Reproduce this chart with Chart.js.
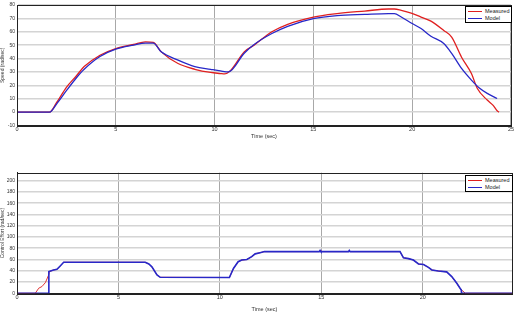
<!DOCTYPE html>
<html>
<head>
<meta charset="utf-8">
<script src="https://cdn.jsdelivr.net/npm/chart.js@4.4.0/dist/chart.umd.min.js"></script>
<style>
    body { margin: 0; background: #fff; width: 515px; height: 313px; overflow: hidden; position: relative; font-family: "Liberation Sans", Arial, sans-serif; }
    canvas { position: absolute; left: 0; }
    #speedChart { top: 0; }
    #effortChart { top: 160px; }
    .legend { position: absolute; background: #fff; border: 1px solid #000; font-size: 5.5px; color: #222; padding: 1px 2px; box-sizing: border-box; }
    .legend div { height: 6.5px; line-height: 6.5px; white-space: nowrap; }
    .legend span.ln { display: inline-block; width: 14px; height: 1px; vertical-align: middle; margin-right: 3px; }
</style>
</head>
<body>
<canvas id="speedChart" width="515" height="140"></canvas>
<canvas id="effortChart" width="515" height="153"></canvas>

<div class="legend" style="left:465px; top:6px; width:47px; height:17px;">
    <div><span class="ln" style="background:#e02020"></span>Measured</div>
    <div><span class="ln" style="background:#2828c8"></span>Model</div>
</div>
<div class="legend" style="left:465px; top:175px; width:48px; height:17px;">
    <div><span class="ln" style="background:#e02020"></span>Measured</div>
    <div><span class="ln" style="background:#2828c8"></span>Model</div>
</div>

<script>
// velocidad (grafico de arriba)
const speedTimeMeasured = [0, 1.65, 2.0, 2.5, 3.0, 3.4, 4.2, 5.0, 5.9, 6.5, 6.9, 7.3, 8.15, 9.0, 9.8, 10.3, 10.5, 10.8, 11.5, 12.0, 12.9, 13.7, 15.0, 16.2, 17.6, 18.8, 19.1, 19.45, 19.95, 20.45, 20.95, 21.6, 22.0, 22.5, 23.0, 23.3, 23.8, 24.1, 24.3, 24.4];
const speedMeasured = [0, 0, 7, 18.5, 27, 34, 42.5, 47.5, 50.5, 52.5, 52, 45, 36.3, 32, 29.6, 28.8, 28.5, 31, 45, 50, 60, 65.6, 71, 73.6, 75.5, 77, 77, 76, 74, 71, 68, 61, 56, 41, 28.8, 17.6, 9, 5, 1, 0];
const speedTimeModel = [0, 1.65, 2.0, 2.5, 3.0, 3.4, 4.2, 5.0, 5.9, 6.5, 6.9, 7.3, 8.15, 9.0, 9.8, 10.3, 10.7, 11.5, 12.0, 12.9, 13.7, 15.0, 16.2, 17.6, 18.8, 19.1, 19.45, 19.95, 20.45, 20.95, 21.6, 22.0, 22.5, 23.0, 23.4, 23.8, 24.3];
const speedModel = [0, 0, 6, 16, 25.5, 32, 41.5, 47, 50, 51.5, 51.5, 45, 38.8, 34, 32, 30.8, 30, 44, 50.5, 58.7, 64.1, 69.8, 72.1, 73, 73.6, 73.6, 71, 66.6, 62.4, 56.7, 51.2, 43.8, 32.6, 23.9, 18, 14, 10.2];

// esfuerzo de control (grafico de abajo)
const effortTimeMeasured = [0, 0.9, 1.07, 1.23, 1.4, 1.56, 1.6, 1.8, 1.97, 2.13, 2.3, 6.32, 6.5, 6.65, 6.9, 7.06, 10.47, 10.67, 10.9, 11.08, 11.33, 11.57, 11.74, 11.98, 12.2, 14.9, 14.94, 14.98, 16.34, 16.38, 16.42, 18.88, 19.05, 19.3, 19.54, 19.79, 20.04, 20.28, 20.45, 20.77, 21.18, 21.43, 21.68, 21.84, 21.95, 22.1, 24.4];
const effortMeasured = [0, 0, 9, 12, 19, 32.5, 38.5, 41.4, 42.6, 48.5, 55, 55, 52, 47, 32.5, 28.4, 28, 44, 56, 59, 60, 65, 70, 72, 74, 74, 76, 74, 74, 76, 74, 74, 63, 61.5, 59, 52, 51, 46, 41.4, 39.6, 38, 29.6, 17.8, 8.9, 5, 0, 0];
const effortTimeModel = [0, 1.56, 1.57, 1.8, 1.97, 2.13, 2.3, 6.32, 6.5, 6.65, 6.9, 7.06, 10.47, 10.67, 10.9, 11.08, 11.33, 11.57, 11.74, 11.98, 12.2, 14.9, 14.94, 14.98, 16.34, 16.38, 16.42, 18.88, 19.05, 19.3, 19.54, 19.79, 20.04, 20.28, 20.45, 20.77, 21.18, 21.43, 21.68, 21.84, 21.9, 21.91, 24.4];
const effortModel = [0, 0, 38.5, 41.4, 42.6, 48.5, 55, 55, 52, 47, 32.5, 28.4, 28, 44, 56, 59, 60, 65, 70, 72, 74, 74, 76, 74, 74, 76, 74, 74, 63, 61.5, 59, 52, 51, 46, 41.4, 39.6, 38, 29.6, 17.8, 8.9, 6, 0, 0];

const RED = '#e02020';
const BLUE = '#2828c8';

function toPoints(xs, ys) {
    return xs.map((x, i) => ({ x: x, y: ys[i] }));
}

// caja negra alrededor del area (estilo matlab)
const boxPlugin = {
    id: 'box',
    afterDraw(chart) {
        const a = chart.chartArea;
        const c = chart.ctx;
        c.save();
        c.strokeStyle = '#222';
        c.lineWidth = 1;
        c.strokeRect(Math.round(a.left) + 0.5, Math.round(a.top) + 0.5, Math.round(a.right - a.left), Math.round(a.bottom - a.top));
        c.restore();
    }
};

function makeChart(canvasId, datasets, xMax, yMin, yMax, yStep, yTitle, padTop, xAxisHeight) {
    const tickFont = { family: 'Liberation Sans', size: 5.5 };
    return new Chart(document.getElementById(canvasId), {
        type: 'line',
        data: { datasets: datasets },
        options: {
            responsive: false,
            animation: false,
            devicePixelRatio: 1,
            layout: { padding: { top: padTop, right: 3, left: 0, bottom: 0 } },
            plugins: {
                legend: { display: false },
                tooltip: { enabled: false }
            },
            elements: { point: { radius: 0 }, line: { borderWidth: 1.3 } },
            scales: {
                x: {
                    type: 'linear',
                    min: 0,
                    max: xMax,
                    afterFit: (s) => { s.height = xAxisHeight; },
                    afterBuildTicks: (s) => { s.ticks = s.ticks.filter(t => t.value % 5 === 0); },
                    ticks: { stepSize: 5, font: tickFont, color: '#333', padding: 1, maxRotation: 0 },
                    grid: { color: '#a8a8a8', lineWidth: 1, drawTicks: false },
                    border: { color: '#222' },
                    title: { display: true, text: 'Time (sec)', font: tickFont, color: '#333', padding: 0 }
                },
                y: {
                    min: yMin,
                    max: yMax,
                    afterFit: (s) => { s.width = 17; },
                    afterBuildTicks: (s) => { s.ticks = s.ticks.filter(t => t.value % yStep === 0); },
                    ticks: { stepSize: yStep, font: { family: 'Liberation Sans', size: 5 }, color: '#333', padding: 2 },
                    grid: { color: '#d4d4d4', lineWidth: 1.5, drawTicks: false },
                    border: { color: '#222' },
                    title: { display: true, text: yTitle, font: { family: 'Liberation Sans', size: 5 }, color: '#333', padding: 0 }
                }
            }
        },
        plugins: [boxPlugin]
    });
}

// el modelo va primero para quedar dibujado encima
makeChart('speedChart', [
    { label: 'Model', data: toPoints(speedTimeModel, speedModel), borderColor: BLUE, cubicInterpolationMode: 'monotone' },
    { label: 'Measured', data: toPoints(speedTimeMeasured, speedMeasured), borderColor: RED, cubicInterpolationMode: 'monotone' }
], 25, -10, 80, 10, 'Speed (rad/sec)', 4.5, 14.5);

makeChart('effortChart', [
    { label: 'Model', data: toPoints(effortTimeModel, effortModel), borderColor: BLUE, borderWidth: 1.6, tension: 0 },
    { label: 'Measured', data: toPoints(effortTimeMeasured, effortMeasured), borderColor: RED, borderWidth: 0.9, tension: 0 }
], 24.4, 0, 214, 20, 'Control Effort (rad/sec)', 12.7, 19.7);
</script>
</body>
</html>
